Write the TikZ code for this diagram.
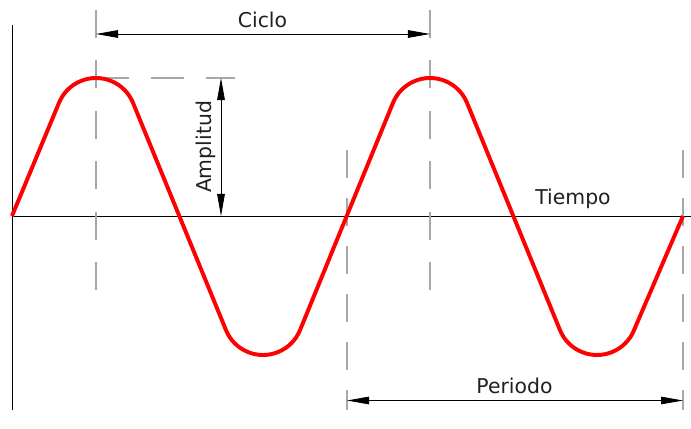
\documentclass[tikz,border=0pt]{standalone}
\usepackage{fontspec}
\setmainfont{DejaVu Sans}
\usetikzlibrary{arrows.meta}
\definecolor{WaveRed}{HTML}{FF0000}
\definecolor{GuideGray}{HTML}{A8A8A8}
\definecolor{InkDark}{HTML}{202020}

\begin{document}
\begin{tikzpicture}[
  x=0.025cm, y=0.025cm,
  line join=round,
  >={Triangle[length=5.5mm,width=1.9mm]},
  dimline/.style={black, line width=0.6pt, <->},
  guide/.style={GuideGray, line width=0.8pt, dash pattern=on 0.7cm off 0.5cm},
  wave/.style={WaveRed, line width=2.8pt},
  dimtext/.style={InkDark, font=\fontsize{14.5}{16}\selectfont, inner sep=0pt, anchor=base}
]

% === Frame ===
\useasboundingbox (0,0) rectangle (691,428);

% === Axes ===
\coordinate (O) at (12,212);
\draw[line width=0.6pt] (12,18) -- (12,403);
\draw[line width=0.6pt] (O) -- (691,212);

% === Guide lines (dashed) ===
\foreach \x in {96,430} \draw[guide, dash pattern=on 0.7cm off 0.56cm] (\x,418) -- (\x,138);
\foreach \x in {347,683} \draw[guide] (\x,278) -- (\x,18);
\draw[guide, dash pattern=on 0.82cm off 0.55cm] (96,350) -- (235,350);

% === Wave: straight flanks, round crests ===
\draw[wave] (O)
  foreach \c in {96,430} {
    -- ({\c-36.95},325.3) arc[start angle=157.5, end angle=22.5, radius=40]
    -- ({\c+130.05},97.7) arc[start angle=202.5, end angle=337.5, radius=40]
  } -- (683,212);

% === Dimension: Ciclo ===
\coordinate (cicloA) at (96,394);
\coordinate (cicloB) at (430,394);
\draw[dimline] (cicloA) -- (cicloB);
\node[dimtext] (ciclo) at (262.5,400) {Ciclo};

% === Dimension: Amplitud ===
\coordinate (ampTop) at (221,350);
\coordinate (ampBot) at (221,212);
\draw[dimline] (ampTop) -- (ampBot);
\node[dimtext, rotate=90] (amplitud) at (211,281) {Amplitud};

% === Dimension: Periodo ===
\coordinate (perA) at (347,27.5);
\coordinate (perB) at (683,27.5);
\draw[dimline] (perA) -- (perB);
\node[dimtext] (periodo) at (514.5,35) {Periodo};

% === Axis label ===
\node[dimtext] (tiempo) at (573,223) {Tiempo};

\end{tikzpicture}
\end{document}
